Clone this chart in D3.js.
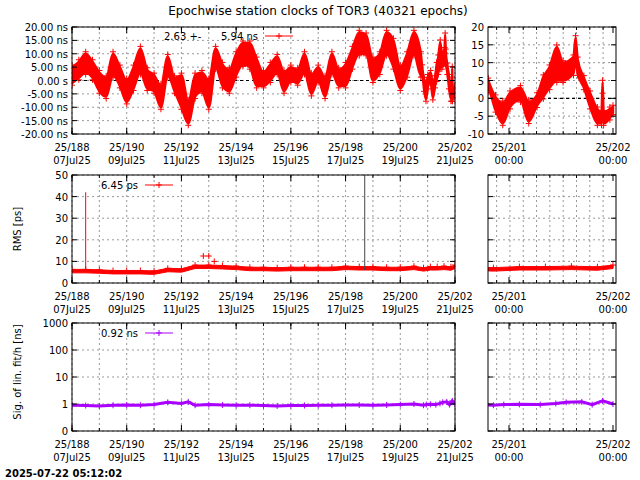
<!DOCTYPE html>
<html><head><meta charset="utf-8">
<script src="https://cdn.jsdelivr.net/npm/d3@7"></script>
<style>body{margin:0;background:#fff}text{font-family:"DejaVu Sans",sans-serif;font-size:10px}</style>
</head><body><svg id="c" width="640" height="480"></svg>
<script>
const clkDays=[188,188.25,188.5,188.75,189,189.25,189.5,189.75,190,190.25,190.5,190.75,191,191.25,191.5,191.75,192,192.25,192.5,192.75,193,193.25,193.5,193.75,194,194.25,194.5,194.75,195,195.25,195.5,195.75,196,196.25,196.5,196.75,197,197.25,197.5,197.75,198,198.25,198.5,198.75,199,199.25,199.5,199.75,200,200.25,200.5,200.75,
200.8,200.87,200.94,201.01,201.11,201.19,201.27,201.33,201.39,201.46,201.52,201.62,201.64,201.66,201.72,201.78,201.85,201.89,201.9,201.91,201.97,202.0];
const clkLo=[-1,1,3,1,-4,-6,2,-2,-8,-3,3,-3,-4,-10,2,-4,-10,-16,-6,-4,-10,5,-2,-4,2,6,5,-2,-2,0,3,-4,0,-1,3,-5,0,-6,3,-2,-2,5,10,10,0,3,10,5,-3,2,10,2,
2.3,-3.3,-7,-2.4,-0.5,-6.5,-2,0.4,3,5,5,7,11,7,3,-2.4,-7,-7,2,-7,-5.5,-4];
const clkHi=[5,7,10,7,3,1,10,5,0,5,12,4,2,-2,9,1,2,-8,2,3,0,12,6,4,10,14,14,8,3,6,9,3,5,4,10,2,5,1,10,4,6,12,18,17,8,10,18,15,5,10,18,10,
5.1,0.4,-1.3,1.5,3,-1,1,6,8.8,14.4,10,11.6,17,11,5.8,1.5,-3,-4,4.5,-4,-3,-2.5];
const rmsDays=[188,188.5,189,189.5,190,190.5,191,191.5,192,192.5,193,193.5,194,194.5,195,195.5,196,196.5,197,197.5,198,198.5,199,199.5,200,200.5,200.85,201.1,201.35,201.6,201.85,202];
const rmsVal=[5.5,5.5,5.3,5,5,5,4.8,6,5.8,7.5,7.5,7.3,7,6.5,6.5,6.3,6.5,6.5,6.5,6.5,7,6.8,6.8,6.5,6.5,7,6.3,6.8,6.8,7,6.7,7.5];
const rmsSpikes=[[188.5,42],[198.7,55]];
const rmsOut=[[192.8,12.5],[193.0,12.5],[193.2,10]];
const sigDays=[188,188.5,189,189.5,190,190.5,191,191.5,192,192.25,192.5,193,193.5,194,194.5,195,195.5,196,196.5,197,197.5,198,198.5,199,199.5,200,200.5,200.85,200.95,201.1,201.3,201.45,201.55,201.7,201.8,201.9,202.0];
const sigVal=[0.9,0.88,0.85,0.9,0.92,0.9,0.95,1.15,1.05,1.2,0.9,0.95,0.92,0.9,0.9,0.88,0.85,0.88,0.88,0.9,0.9,0.92,0.92,0.9,0.92,0.95,1.0,0.9,0.95,0.97,0.95,1.05,1.15,1.2,0.95,1.3,1.0];
const leftTicks=[188,190,192,194,196,198,200,202];
const leftDates=["07Jul25","09Jul25","11Jul25","13Jul25","15Jul25","17Jul25","19Jul25","21Jul25"];
const rightTicks=[201,202];

const svg=d3.select("#c");
svg.append("text").attr("x",318).attr("y",15).attr("text-anchor","middle").style("font-size","12px").text("Epochwise station clocks of TOR3 (40321 epochs)");
svg.append("text").attr("x",5).attr("y",477).style("font-weight","bold").text("2025-07-22 05:12:02");

const xL=d3.scaleLinear().domain([188,202]).range([72,455]);
const xR=d3.scaleLinear().domain([200.798,202.029]).range([488,616]);
let cid=0;
function panel(x,y,top,bot,opts){
  const g=svg.append("g");
  const [x0,x1]=x.range();
  const id="cl"+(cid++);
  g.append("clipPath").attr("id",id).append("rect").attr("x",x0).attr("y",top).attr("width",x1-x0).attr("height",bot-top);
  opts.vgrid.forEach(v=>g.append("line").attr("x1",x(v)).attr("x2",x(v)).attr("y1",top).attr("y2",bot).attr("stroke","#999").attr("stroke-dasharray","2,3"));
  opts.hgrid.forEach(v=>g.append("line").attr("x1",x0).attr("x2",x1).attr("y1",y(v)).attr("y2",y(v)).attr("stroke","#999").attr("stroke-dasharray","2,3"));
  if(opts.zero) g.append("line").attr("x1",x0).attr("x2",x1).attr("y1",y(0)).attr("y2",y(0)).attr("stroke","#000").attr("stroke-width",1.2).attr("stroke-dasharray","3,3");
  const d=g.append("g").attr("clip-path",`url(#${id})`);
  opts.draw(d);
  g.append("rect").attr("x",x0).attr("y",top).attr("width",x1-x0).attr("height",bot-top).attr("fill","none").attr("stroke","#000");
  opts.yticks.forEach((v,i)=>{
    g.append("line").attr("x1",x0).attr("x2",x0+5).attr("y1",y(v)).attr("y2",y(v)).attr("stroke","#000");
    g.append("line").attr("x1",x1).attr("x2",x1-5).attr("y1",y(v)).attr("y2",y(v)).attr("stroke","#000");
    if(opts.ylab.length) g.append("text").attr("x",x0-4).attr("y",y(v)+4).attr("text-anchor","end").text(opts.ylab[i]);
  });
  opts.xminor.forEach(v=>{
    g.append("line").attr("x1",x(v)).attr("x2",x(v)).attr("y1",bot).attr("y2",bot-3).attr("stroke","#000");
    g.append("line").attr("x1",x(v)).attr("x2",x(v)).attr("y1",top).attr("y2",top+3).attr("stroke","#000");
  });
  opts.xticks.forEach((v,i)=>{
    g.append("line").attr("x1",x(v)).attr("x2",x(v)).attr("y1",bot).attr("y2",bot-6).attr("stroke","#000");
    g.append("line").attr("x1",x(v)).attr("x2",x(v)).attr("y1",top).attr("y2",top+6).attr("stroke","#000");
    g.append("text").attr("x",x(v)).attr("y",bot+17).attr("text-anchor","middle").text("25/"+v);
    g.append("text").attr("x",x(v)).attr("y",bot+30).attr("text-anchor","middle").text(opts.xlab2[i]);
  });
}
function plus(sel,px,py,col){sel.append("path").attr("d",`M${px-3},${py}h6M${px},${py-3}v6`).attr("stroke",col).attr("stroke-width",1);}
const leftDays=d3.range(188,202.01,1), rightMinor=d3.range(0,9).map(i=>200.881+i*0.128);
const clk=clkDays.map((d,i)=>({d,lo:clkLo[i],hi:clkHi[i]}));
function clkDraw(x,y){return g=>{
  g.append("path").datum(clk).attr("fill","#f00").attr("stroke","#f00").attr("stroke-width",2.5)
   .attr("d",d3.area().x(p=>x(p.d)).y0(p=>y(p.lo)).y1(p=>y(p.hi)).curve(d3.curveMonotoneX));
  clk.forEach(p=>{plus(g,x(p.d),y(p.hi)-2,"#f00");plus(g,x(p.d),y(p.lo)+2,"#f00");});
};}
const yTL=d3.scaleLinear().domain([-20,20]).range([134,27]);
const tv=d3.range(-20,20.1,5);
panel(xL,yTL,27,134,{vgrid:leftDays,hgrid:tv,zero:true,yticks:tv,ylab:tv.map(v=>v===0?"0.00  s":v.toFixed(2)+" ns"),xticks:leftTicks,xlab2:leftDates,xminor:leftDays,draw:clkDraw(xL,yTL)});
const yTR=d3.scaleLinear().domain([-10,20]).range([134,27]);
const tr=d3.range(-10,20.1,5);
panel(xR,yTR,27,134,{vgrid:rightMinor,hgrid:tr,zero:true,yticks:tr,ylab:tr.map(String),xticks:rightTicks,xlab2:["00:00","00:00"],xminor:rightMinor,draw:clkDraw(xR,yTR)});
svg.append("text").attr("x",164).attr("y",40).text("2.63 +-");
svg.append("text").attr("x",221).attr("y",40).text("5.94 ns");
svg.append("line").attr("x1",265).attr("x2",293).attr("y1",36).attr("y2",36).attr("stroke","#f00");
plus(svg,279,36,"#f00");
const rms=rmsDays.map((d,i)=>({d,v:rmsVal[i]}));
function rmsDraw(x,y){return g=>{
  g.append("path").datum(rms).attr("fill","#f00").attr("stroke","#f00").attr("stroke-width",1)
   .attr("d",d3.area().x(p=>x(p.d)).y0(p=>y(p.v-0.8)).y1(p=>y(p.v+0.8)));
  rms.forEach(p=>plus(g,x(p.d),y(p.v+0.8),"#f00"));
  rmsSpikes.forEach(s=>g.append("line").attr("x1",x(s[0])).attr("x2",x(s[0])).attr("y1",y(6)).attr("y2",y(s[1])).attr("stroke",s[0]<190?"#f00":"#444"));
  rmsOut.forEach(s=>plus(g,x(s[0]),y(s[1]),"#f00"));
};}
const yML=d3.scaleLinear().domain([0,50]).range([283,175]);
const mv=d3.range(0,50.1,10);
panel(xL,yML,175,283,{vgrid:leftDays,hgrid:mv,yticks:mv,ylab:mv.map(String),xticks:leftTicks,xlab2:leftDates,xminor:leftDays,draw:rmsDraw(xL,yML)});
panel(xR,yML,175,283,{vgrid:rightMinor,hgrid:mv,yticks:mv,ylab:[],xticks:rightTicks,xlab2:["00:00","00:00"],xminor:rightMinor,draw:rmsDraw(xR,yML)});
svg.append("text").attr("x",101).attr("y",189).text("6.45 ps");
svg.append("line").attr("x1",145).attr("x2",173).attr("y1",185).attr("y2",185).attr("stroke","#f00");
plus(svg,159,185,"#f00");
svg.append("text").attr("transform","translate(21,229) rotate(-90)").attr("text-anchor","middle").text("RMS [ps]");
const sig=sigDays.map((d,i)=>({d,v:sigVal[i]}));
const col="#a0f";
function sigDraw(x,y){return g=>{
  g.append("path").datum(sig).attr("fill","none").attr("stroke",col).attr("stroke-width",3)
   .attr("d",d3.line().x(p=>x(p.d)).y(p=>y(p.v)));
  sig.forEach(p=>plus(g,x(p.d),y(p.v),col));
};}
const yB=d3.scaleLog().domain([0.1,1000]).range([431,323]);
const bv=[0.1,1,10,100,1000];
panel(xL,yB,323,431,{vgrid:leftDays,hgrid:bv,yticks:bv,ylab:["0","1","10","100","1000"],xticks:leftTicks,xlab2:leftDates,xminor:leftDays,draw:sigDraw(xL,yB)});
panel(xR,yB,323,431,{vgrid:rightMinor,hgrid:bv,yticks:bv,ylab:[],xticks:rightTicks,xlab2:["00:00","00:00"],xminor:rightMinor,draw:sigDraw(xR,yB)});
svg.append("text").attr("x",101).attr("y",337).text("0.92 ns");
svg.append("line").attr("x1",145).attr("x2",173).attr("y1",333).attr("y2",333).attr("stroke",col);
plus(svg,159,333,col);
svg.append("text").attr("transform","translate(21,372) rotate(-90)").attr("text-anchor","middle").text("Sig. of lin. fit/h [ns]");
</script></body></html>
